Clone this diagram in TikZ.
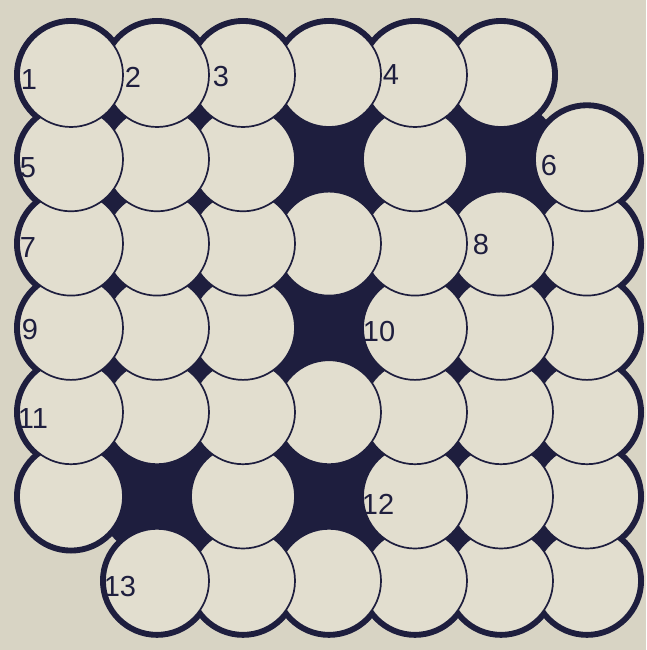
\documentclass[tikz,border=0pt]{standalone}
\usepackage{fontspec}
\setmainfont{Liberation Sans}
\usetikzlibrary{calc}
\definecolor{paper}{RGB}{216,212,196}
\definecolor{disc}{RGB}{226,222,207}
\definecolor{ink}{RGB}{30,30,62}
\tikzset{
  % Base styles
  puzzle base/.style={
    x=1pt, y=-1pt,
    every node/.style={font=\fontsize{29}{29}\selectfont},
  },
  % Cells of the grid
  cell disc/.style={circle, draw=ink, line width=1.7pt, fill=disc, minimum size=104pt, inner sep=0pt},
  cell halo/.style={fill=ink},
  black cell/.style={fill=ink},
  gap fill/.style={fill=ink},
  % Clue numbers
  clue num/.style={text=ink, inner sep=0pt},
}

\begin{document}
\begin{tikzpicture}[puzzle base]
  \fill[paper] (0,0) rectangle (646,650);
  \useasboundingbox (0,0) rectangle (646,650);
  % centres of the 7x7 cells
  \foreach \r in {0,...,6}
    \foreach \c in {0,...,6}
      \coordinate (p-\r-\c) at ({71+86*\c},{75+84.3*\r});
  % thick outer rim
  \foreach \r in {0,...,6}
    \foreach \c in {0,...,6}{
      \pgfmathtruncatemacro\isempty{(\r==0 && \c==6) || (\r==6 && \c==0)}
      \ifnum\isempty=0
        \fill[cell halo] (p-\r-\c) circle (57);
      \fi
    }
  % black squares
  \foreach \cell in {1-3,1-5,3-3,5-1,5-3}
    \fill[black cell] (p-\cell) circle (60);
  % small gaps between four discs
  \foreach \r in {0,...,5}
    \foreach \c in {0,...,5}{
      \pgfmathtruncatemacro\isopen{(\r==0 && \c==5) || (\r==5 && \c==0)}
      \ifnum\isopen=0
        \fill[gap fill] ($(p-\r-\c)+(21,20)$) rectangle ($(p-\r-\c)+(65,64)$);
      \fi
    }
  % discs, bottom right first
  \foreach \r in {6,...,0}
    \foreach \c in {6,...,0}{
      \pgfmathtruncatemacro\isempty{(\r==0 && \c==6) || (\r==6 && \c==0)}
      \pgfmathtruncatemacro\isblack{(mod(\r,2)==1 && \c==3) || (\r==1 && \c==5) || (\r==5 && \c==1)}
      \pgfmathtruncatemacro\skipit{\isempty+\isblack}
      \ifnum\skipit=0
        \node[cell disc] (d-\r-\c) at (p-\r-\c) {};
      \fi
    }
  % clue numbers
  \node[clue num] (n1) at ($(p-0-0)+(-42,5)$) {1};
  \node[clue num] (n2) at ($(p-0-1)+(-24,2)$) {2};
  \node[clue num] (n3) at ($(p-0-2)+(-22,2)$) {3};
  \node[clue num] (n4) at ($(p-0-4)+(-24,0)$) {4};
  \node[clue num] (n5) at ($(p-1-0)+(-43,8)$) {5};
  \node[clue num] (n6) at ($(p-1-6)+(-38,6)$) {6};
  \node[clue num] (n7) at ($(p-2-0)+(-43,4)$) {7};
  \node[clue num] (n8) at ($(p-2-5)+(-20,1)$) {8};
  \node[clue num] (n9) at ($(p-3-0)+(-41,2)$) {9};
  \node[clue num] (n10) at ($(p-3-4)+(-36,4)$) {10};
  \node[clue num] (n11) at ($(p-4-0)+(-38,6)$) {11};
  \node[clue num] (n12) at ($(p-5-4)+(-37,8)$) {12};
  \node[clue num] (n13) at ($(p-6-1)+(-37,6)$) {13};
\end{tikzpicture}
\end{document}
